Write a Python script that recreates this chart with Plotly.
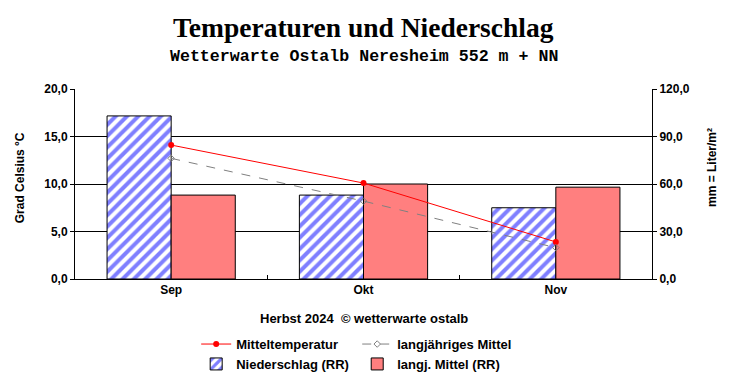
import plotly.graph_objects as go

months = ["Sep", "Okt", "Nov"]
temp_mean = [14.1, 10.1, 3.9]
temp_longterm = [12.7, 8.2, 3.3]
rain = [103.0, 53.0, 45.0]
rain_longterm = [53.0, 60.0, 58.0]
temp_ticks = [0, 5, 10, 15, 20]
rain_ticks = [0, 30, 60, 90, 120]

font_sans = "Liberation Sans, Arial, sans-serif"
bold12 = dict(family=font_sans, size=12, color="black", weight="bold")
bold13 = dict(family=font_sans, size=13, color="black", weight="bold")

fig = go.Figure()

fig.add_trace(go.Bar(
    x=months, y=rain, name="Niederschlag (RR)", yaxis="y",
    marker=dict(color="white", line=dict(color="black", width=1),
                pattern=dict(shape="/", fgcolor="#0000ff", bgcolor="white",
                             size=8, solidity=0.5)),
    legend="legend",
))
fig.add_trace(go.Bar(
    x=months, y=rain_longterm, name="langj. Mittel (RR)", yaxis="y",
    marker=dict(color="white", line=dict(color="black", width=1),
                pattern=dict(shape=".", fgcolor="#ff0000", bgcolor="white",
                             size=2, solidity=1.0)),
    legend="legend2",
))
fig.add_trace(go.Scatter(
    x=months, y=temp_mean, name="Mitteltemperatur", yaxis="y2",
    mode="lines+markers", line=dict(color="#ff0000", width=1),
    marker=dict(color="#ff0000", size=6, symbol="circle"),
    legend="legend",
))
fig.add_trace(go.Scatter(
    x=months, y=temp_longterm, name="langjähriges Mittel", yaxis="y2",
    mode="lines+markers", line=dict(color="#808080", width=1, dash="dash"),
    marker=dict(color="#808080", size=5, symbol="diamond-open"),
    legend="legend2",
))

fig.update_layout(
    width=732, height=384,
    margin=dict(l=75, r=80, t=89, b=105, autoexpand=False),
    paper_bgcolor="white", plot_bgcolor="white",
    separators=",.",
    barmode="group", bargap=1/3, bargroupgap=0,
    font=dict(family=font_sans, size=12, color="black"),
    xaxis=dict(
        type="category", showline=True, linecolor="black", linewidth=1,
        ticks="inside", ticklen=4, tickcolor="black", tickson="boundaries",
        showgrid=False, automargin=False, tickfont=bold12,
    ),
    yaxis=dict(
        side="right", range=[0, 120], tickvals=rain_ticks, tickformat=".1f",
        showline=True, linecolor="black", linewidth=1,
        ticks="outside", ticklen=4, tickcolor="black", automargin=False,
        showgrid=True, gridcolor="black", gridwidth=1, zeroline=False,
        tickfont=bold12,
    ),
    yaxis2=dict(
        side="left", overlaying="y", range=[0, 20], tickvals=temp_ticks, tickformat=".1f",
        showline=True, linecolor="black", linewidth=1, automargin=False,
        ticks="outside", ticklen=4, tickcolor="black",
        showgrid=False, zeroline=False, tickfont=bold12,
    ),
    legend=dict(
        x=0.268, y=0.143, xanchor="left", yanchor="top", xref="container", yref="container",
        orientation="v", traceorder="reversed", font=bold13,
        bgcolor="rgba(0,0,0,0)", tracegroupgap=0, itemwidth=30,
    ),
    legend2=dict(
        x=0.488, y=0.143, xanchor="left", yanchor="top", xref="container", yref="container",
        orientation="v", traceorder="reversed", font=bold13,
        bgcolor="rgba(0,0,0,0)", tracegroupgap=0, itemwidth=30,
    ),
    showlegend=True,
)

fig.add_annotation(
    text="Temperaturen und Niederschlag", xref="paper", yref="paper",
    x=0.5, y=1, xanchor="center", yanchor="middle", yshift=62, showarrow=False,
    font=dict(family="Liberation Serif, Times New Roman, serif", size=27.5, color="black", weight="bold"),
)
fig.add_annotation(
    text="Wetterwarte Ostalb Neresheim 552 m + NN", xref="paper", yref="paper",
    x=0.5, y=1, xanchor="center", yanchor="middle", yshift=33, showarrow=False,
    font=dict(family="Liberation Mono, Courier New, monospace", size=16.6, color="black", weight="bold"),
)
fig.add_annotation(
    text="Herbst 2024  © wetterwarte ostalb", xref="paper", yref="paper",
    x=0.5, y=0, xanchor="center", yanchor="middle", yshift=-39, showarrow=False,
    font=bold13,
)
fig.add_annotation(
    text="Grad Celsius °C", xref="paper", yref="paper",
    x=-55 / 577, y=0.53, xanchor="center", yanchor="middle", textangle=-90,
    showarrow=False, font=bold12,
)
fig.add_annotation(
    text="mm = Liter/m²", xref="paper", yref="paper",
    x=1 + 60 / 577, y=0.584, xanchor="center", yanchor="middle", textangle=-90,
    showarrow=False, font=bold12,
)

fig.write_html("out.html", config={"displayModeBar": False},
               post_script="document.body.style.margin='0px';")
